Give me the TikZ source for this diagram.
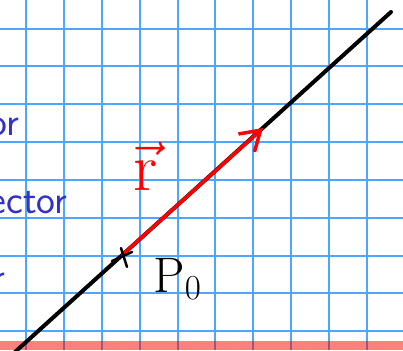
\documentclass[tikz,border=0pt]{standalone}
\usepackage{fix-cm}
\usepackage{amsmath}
\usepackage{tikz}
\usetikzlibrary{arrows.meta}
\definecolor{gridblue}{RGB}{77,166,255}
\definecolor{inkblue}{RGB}{50,50,200}

\begin{document}
\begin{tikzpicture}[x=1pt,y=-1pt,
    gridline/.style={gridblue,line width=2pt},
    ink/.style={text=inkblue,anchor=base east,font=\sffamily\fontsize{40}{40}\selectfont}]
        \useasboundingbox (0,0) rectangle (403,350);
        \clip (0,0) rectangle (403,350);
        % paper grid
        \foreach \gx in {26.3,64.1,101.9,139.7,177.5,215.3,253.1,290.9,328.7,366.5} {\draw[gridline] (\gx,0) -- (\gx,350);}
        \foreach \gy in {28.7,66.5,104.3,142.1,179.9,217.7,255.5,293.3,331.1} {\draw[gridline] (0,\gy) -- (403,\gy);}
        \fill[red,opacity=0.5] (0,340.7) rectangle (403,350); % margin band
        % words cut at the left edge
        \node[ink] (w1) at (23,135) {or};
        \node[ink] (w2) at (71,213) {ector};
        \node[ink] (w3) at (9,290) {r};
        % line, point and vector
        \coordinate (A) at (15,352);
        \coordinate (B) at (391,12);
        \coordinate (P0) at (122,255);
        \coordinate (tip) at (263,128);
        \draw[line width=4pt,line cap=round] (A) -- (B);
        \draw[red,line width=3.5pt,line cap=round,-{Straight Barb[length=19pt,width=24pt]}] (P0) -- (tip);
        \draw[line width=2.5pt,line cap=round] ([shift={(-10,6)}]P0) -- ([shift={(10,-3)}]P0); % cross
        \draw[line width=2.5pt,line cap=round] ([shift={(-1,-7)}]P0) -- ([shift={(5,12)}]P0);
        \node[anchor=base west,font=\fontsize{50}{50}\selectfont] (lblP) at (150,292) {$\mathrm{P}_0$};
        \node[anchor=base west,red,font=\fontsize{68}{68}\selectfont] (lblr) at (130,190) {$\vec{\mathrm{r}}$};
    \end{tikzpicture}
\end{document}
